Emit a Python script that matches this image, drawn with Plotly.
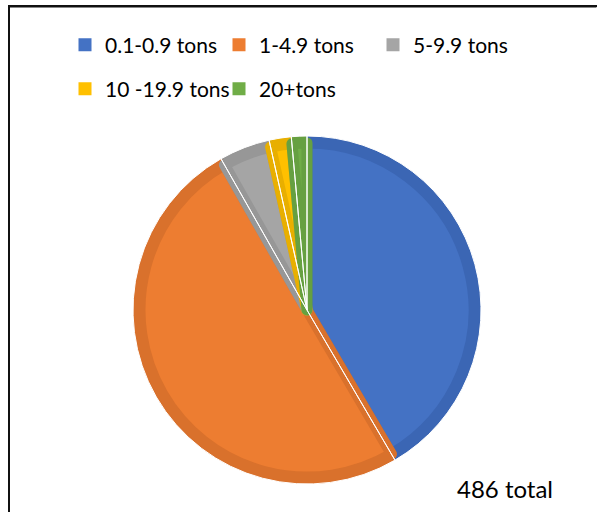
import plotly.graph_objects as go

categories = ["0.1-0.9 tons", "1-4.9 tons", "5-9.9 tons", "10 -19.9 tons", "20+tons"]
values = [202, 244, 23, 10, 7]
fill_colors = ["#4472C4", "#ED7D31", "#A5A5A5", "#FFC000", "#70AD47"]
edge_colors = ["#3B66B4", "#D9712C", "#979797", "#E8AF00", "#66A041"]
total_label = "486 total"

W, H = 597, 512
cx, cy, r = 307, 310, 174
inset = 7

def dom(rad):
    return dict(x=[(cx - rad) / W, (cx + rad) / W],
                y=[(H - cy - rad) / H, (H - cy + rad) / H])

common = dict(labels=categories, values=values, sort=False, direction="clockwise",
              rotation=0, textinfo="none", hoverinfo="label+value", showlegend=False)

fig = go.Figure()
fig.add_trace(go.Pie(**common, domain=dom(r),
                     marker=dict(colors=edge_colors, line=dict(color="white", width=0))))
fig.add_trace(go.Pie(**common, domain=dom(r - inset),
                     marker=dict(colors=fill_colors, line=dict(color=edge_colors, width=11))))
fig.add_trace(go.Pie(**common, domain=dom(r),
                     marker=dict(colors=["rgba(0,0,0,0)"] * 5, line=dict(color="white", width=1))))

for i, (lab, col) in enumerate(zip(categories, fill_colors)):
    fig.add_trace(go.Scatter(x=[None], y=[None], mode="markers", name=lab,
                             marker=dict(symbol="square", size=13, color=col),
                             legend="legend" if i < 3 else "legend2", hoverinfo="skip"))

leg_common = dict(orientation="h", xanchor="left", yanchor="middle",
                  font=dict(size=21, color="#000"), entrywidth=109, entrywidthmode="pixels",
                  traceorder="normal", itemclick=False, itemdoubleclick=False,
                  bgcolor="rgba(0,0,0,0)")

axis_common = dict(showline=True, linecolor="#111", linewidth=2, showgrid=False,
                   zeroline=False, showticklabels=False, ticks="", fixedrange=True)

fig.update_layout(
    width=W, height=H, margin=dict(l=0, r=0, t=0, b=0),
    paper_bgcolor="white", plot_bgcolor="rgba(0,0,0,0)",
    font=dict(family="Lato, Carlito, sans-serif", color="#000000"),
    xaxis=dict(**axis_common, side="top", domain=[10 / W, 1], range=[0, 1]),
    yaxis=dict(**axis_common, side="left", domain=[0, 1 - 6.5 / H], range=[0, 1]),
    legend=dict(**leg_common, x=65 / W, y=1 - 45 / H),
    legend2=dict(**leg_common, x=65 / W, y=1 - 89 / H),
    annotations=[dict(text=total_label, x=504.5 / W, y=1 - 488.5 / H, xref="paper", yref="paper",
                      showarrow=False, font=dict(size=24, color="#000"),
                      xanchor="center", yanchor="middle")],
    shapes=[
        dict(type="line", xref="paper", yref="paper", x0=9 / W, x1=0.999, y0=1 - 6.5 / H, y1=1 - 6.5 / H,
             line=dict(color="#111", width=2), layer="above"),
    ],
)

fig.write_html("out.html", config={"displayModeBar": False},
               post_script="document.body.style.margin='0';")
